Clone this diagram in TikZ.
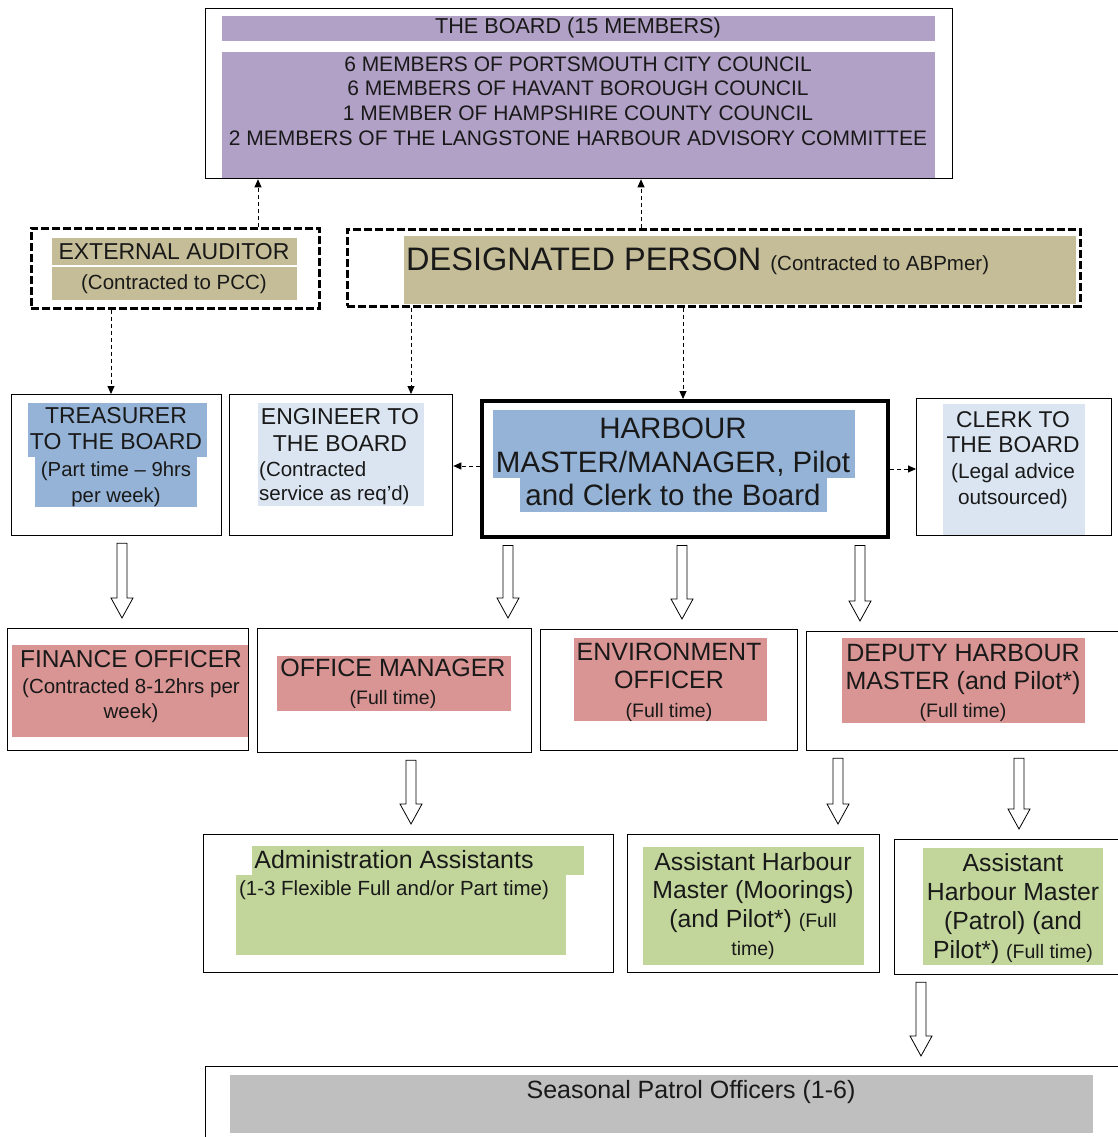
\documentclass[tikz,border=0pt]{standalone}
\usepackage{fontspec}
\setmainfont{Liberation Sans}
\usepackage{xcolor}
\usetikzlibrary{
  arrows.meta,
  calc
}
\definecolor{boardpurple}{HTML}{B2A1C7}
\definecolor{contracttan}{HTML}{C4BD97}
\definecolor{leadblue}{HTML}{95B3D7}
\definecolor{paleblue}{HTML}{DBE5F1}
\definecolor{officerpink}{HTML}{D99594}
\definecolor{staffgreen}{HTML}{C2D69B}
\definecolor{seasongrey}{HTML}{BFBFBF}
\newcommand{\fs}[2]{\fontsize{#1}{#2}\selectfont}
\tikzset{
  postbox/.style={
    draw,
    line width=1.3pt,
    anchor=north west,
    inner sep=0pt},
  extbox/.style={
    draw,
    line width=2.6pt,
    dash pattern=on 8pt off 3pt,
    anchor=north west,
    inner sep=0pt},
  txt/.style={
    align=center,
    inner sep=0pt,
    text=black!90},
  report/.style={
    line width=0.9pt,
    dash pattern=on 4pt off 3pt,
    -{Triangle[length=8pt,width=7pt]}},
  hollowarrow/.style={
    draw,
    fill=white,
    line width=0.8pt,
    to path={let \p1=(\tikztostart), \p2=(\tikztotarget) in
      (\x1-5pt,\y1-7pt) -- (\x1-5pt,\y2+30pt) -- (\x1-11pt,\y2+30pt)
      -- (\x1,\y2+10pt) -- (\x1+11pt,\y2+30pt) -- (\x1+5pt,\y2+30pt)
      -- (\x1+5pt,\y1-7pt) -- cycle}}
  }

\begin{document}
\begin{tikzpicture}[x=1pt,y=-1pt]
      \useasboundingbox (0,0) rectangle (1118,1137);
      \clip (0,0) rectangle (1118,1137);
      % highlighted text areas
      \fill[boardpurple] (222,16) rectangle (935,41);
      \fill[boardpurple] (222,52) rectangle (935,178);
      \fill[contracttan] (52,238) rectangle (297,265);
      \fill[contracttan] (52,267) rectangle (297,300);
      \fill[contracttan] (404,236) rectangle (1076,304);
      \fill[leadblue] (28,403) rectangle (207,457);
      \fill[leadblue] (35,457) rectangle (197,507);
      \fill[paleblue] (258,403) rectangle (424,506);
      \fill[leadblue] (493,410) rectangle (855,478);
      \fill[leadblue] (520,478) rectangle (827,512);
      \fill[paleblue] (943,404) rectangle (1085,535);
      \fill[officerpink] (12,645) rectangle (248,737);
      \fill[officerpink] (277,656) rectangle (511,711);
      \fill[officerpink] (574,638) rectangle (767,721);
      \fill[officerpink] (842,638) rectangle (1085,723);
      \fill[staffgreen] (252,846) rectangle (584,875);
      \fill[staffgreen] (236,875) rectangle (566,955);
      \fill[staffgreen] (643,847) rectangle (864,965);
      \fill[staffgreen] (923,848) rectangle (1103,965);
      \fill[seasongrey] (230,1075) rectangle (1093,1133);
      % posts
      \node[postbox, minimum width=747pt, minimum height=170pt] (board) at (205,8) {};
      \node[extbox, minimum width=288pt, minimum height=80pt] (aud) at (30,227) {};
      \node[extbox, minimum width=733pt, minimum height=77pt] (desig) at (346,228) {};
      \node[postbox, minimum width=210pt, minimum height=141pt] (treas) at (11,394) {};
      \node[postbox, minimum width=223pt, minimum height=141pt] (eng) at (229,394) {};
      \node[postbox, line width=3.5pt, minimum width=406pt, minimum height=136pt] (hm) at (480,399) {};
      \node[postbox, minimum width=195pt, minimum height=137pt] (clerk) at (916,398) {};
      \node[postbox, minimum width=241pt, minimum height=122pt] (fin) at (7,628) {};
      \node[postbox, minimum width=274pt, minimum height=124pt] (office) at (257,628) {};
      \node[postbox, minimum width=257pt, minimum height=121pt] (env) at (540,629) {};
      \node[postbox, minimum width=320pt, minimum height=119pt] (deputy) at (806,631) {};
      \node[postbox, minimum width=410pt, minimum height=138pt] (admin) at (203,834) {};
      \node[postbox, minimum width=252pt, minimum height=138pt] (moor) at (627,834) {};
      \node[postbox, minimum width=230pt, minimum height=135pt] (patrol) at (894,839) {};
      \node[postbox, minimum width=925pt, minimum height=100pt] (season) at (205,1066) {};
      % texts
      \node[txt, font=\fs{21.6}{25}] (boardtitle) at (578,28) {THE BOARD (15 MEMBERS)};
      \node[txt, font=\fs{21}{24.7}] (members) at (578,101) {6 MEMBERS OF PORTSMOUTH CITY COUNCIL\\6 MEMBERS OF HAVANT BOROUGH COUNCIL\\1 MEMBER OF HAMPSHIRE COUNTY COUNCIL\\2 MEMBERS OF THE LANGSTONE HARBOUR ADVISORY COMMITTEE};
      \node[txt, font=\fs{23}{27}] (audname) at (174,252) {EXTERNAL AUDITOR};
      \node[txt, font=\fs{20.5}{24}] (audnote) at (174,284) {(Contracted to PCC)};
      \node[txt, anchor=base west, font=\fs{32.5}{38}] (designame) at (406,270) {DESIGNATED PERSON {\fs{20.5}{24}(Contracted to ABPmer)}};
      \node[txt, font=\fs{23}{26.5}] (treastext) at (116,457) {TREASURER\\TO THE BOARD\\\fs{20.3}{26.5}(Part time – 9hrs\\\fs{20.3}{26.5}per week)};
      \node[txt, font=\fs{23}{27}] (engtext) at (340,430) {ENGINEER TO\\THE BOARD};
      \node[txt, align=left, anchor=west, font=\fs{20.5}{24}] (engnote) at (259,483) {(Contracted\\service as req'd)};
      \node[txt, font=\fs{29.5}{33.5}] (hmtext) at (673,462) {HARBOUR\\MASTER/MANAGER, Pilot\\and Clerk to the Board};
      \node[txt, font=\fs{22.8}{25.7}] (clerktext) at (1013,460) {CLERK TO\\THE BOARD\\\fs{20.8}{25.7}(Legal advice\\\fs{20.8}{25.7}outsourced)};
      \node[txt, font=\fs{24.5}{25.5}] (fintext) at (131,687) {FINANCE OFFICER\\\fs{20.5}{25.5}(Contracted 8-12hrs per\\\fs{20.5}{25.5}week)};
      \node[txt, font=\fs{25}{28}] (officetext) at (393,684) {OFFICE MANAGER\\\fs{19.5}{28}(Full time)};
      \node[txt, font=\fs{25}{28.5}] (envtext) at (669,682) {ENVIRONMENT\\OFFICER\\\fs{19.5}{28.5}(Full time)};
      \node[txt, font=\fs{25}{28}] (deputytext) at (963,683) {DEPUTY HARBOUR\\MASTER (and Pilot*)\\\fs{19.5}{28}(Full time)};
      \node[txt, font=\fs{25}{27}] (admintext) at (394,875) {Administration Assistants\\\fs{20.5}{27}(1-3 Flexible Full and/or Part time)};
      \node[txt, font=\fs{24.8}{28.5}] (moortext) at (753,906) {Assistant Harbour\\Master (Moorings)\\(and Pilot*) {\fs{19.5}{28.5}(Full}\\\fs{19.5}{28.5}time)};
      \node[txt, font=\fs{24.8}{29}] (patroltext) at (1013,909) {Assistant\\Harbour Master\\(Patrol) (and\\Pilot*) {\fs{19.5}{29}(Full time)}};
      \node[txt, font=\fs{25}{28}] (seasontext) at (691,1092) {Seasonal Patrol Officers (1-6)};
      % reporting lines
      \draw[report] (aud.north -| 258,0) -- (board.south -| 258,0);
      \draw[report] (desig.north -| 641,0) -- (board.south -| 641,0);
      \draw[report] (aud.south -| 111,0) -- (treas.north -| 111,0);
      \draw[report] (desig.south -| 411,0) -- (eng.north -| 411,0);
      \draw[report] (desig.south -| 683,0) -- (hm.north -| 683,0);
      \draw[report] (hm.west |- 0,466) -- (eng.east |- 0,466);
      \draw[report] (hm.east |- 0,469) -- (clerk.west |- 0,469);
      % line management
      \draw[hollowarrow] (treas.south -| 122,0) to (fin.north -| 122,0);
      \draw[hollowarrow] (hm.south -| 508,0) to (office.north -| 508,0);
      \draw[hollowarrow] (hm.south -| 682,0) to (env.north -| 682,0);
      \draw[hollowarrow] (hm.south -| 860,0) to (deputy.north -| 860,0);
      \draw[hollowarrow] (office.south -| 411,0) to (admin.north -| 411,0);
      \draw[hollowarrow] (deputy.south -| 838,0) to (moor.north -| 838,0);
      \draw[hollowarrow] (deputy.south -| 1019,0) to (patrol.north -| 1019,0);
      \draw[hollowarrow] (patrol.south -| 921,0) to (season.north -| 921,0);
\end{tikzpicture}
\end{document}
